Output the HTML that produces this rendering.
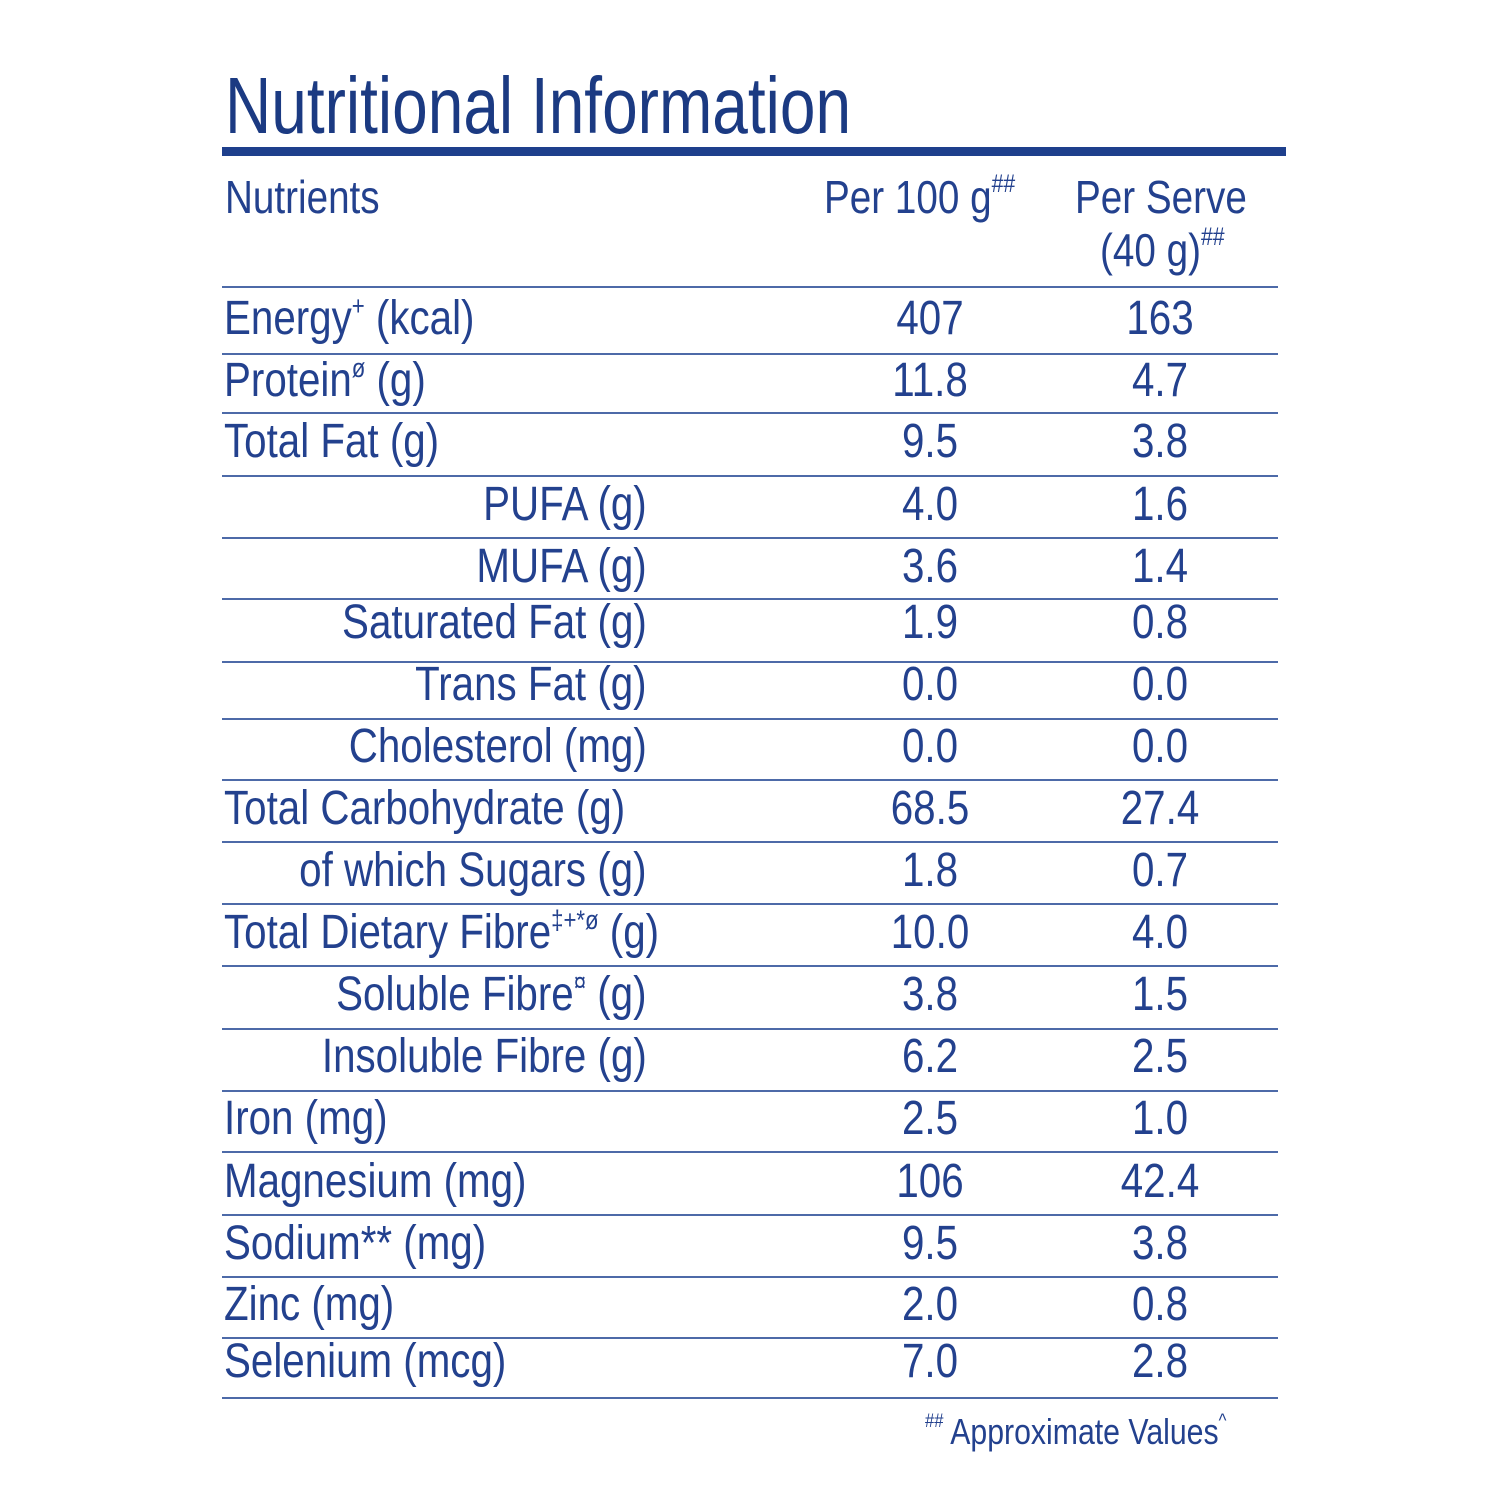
<!DOCTYPE html>
<html><head><meta charset="utf-8"><style>
body{margin:0;background:#fff;}
#wrap{position:relative;width:1500px;height:1500px;overflow:hidden;font-family:"Liberation Sans",sans-serif;color:#23418e;}
.t{position:absolute;white-space:nowrap;line-height:1;}
.l{transform:scaleX(0.84);transform-origin:left center;}
.r{transform:scaleX(0.84);transform-origin:right center;}
.c{transform:translateX(-50%) scaleX(0.84);transform-origin:center center;}
.ln{position:absolute;left:222px;width:1056px;height:2px;background:#4d6aa8;}
sup{font-size:55%;vertical-align:top;position:relative;top:-2px;}
</style></head><body>
<div id="wrap">
<div class="t l" style="left:225px;top:66px;font-size:80px;color:#1b3a82;transform:scaleX(0.8);">Nutritional Information</div>
<div style="position:absolute;left:222px;top:147px;width:1064px;height:9px;background:#1e3f8c;"></div>
<div class="t l" style="left:225px;top:174px;font-size:46px;">Nutrients</div>
<div class="t l" style="left:824px;top:174px;font-size:46px;">Per 100 g<sup>##</sup></div>
<div class="t l" style="left:1075px;top:174px;font-size:46px;">Per Serve</div>
<div class="t l" style="left:1100px;top:227px;font-size:46px;">(40 g)<sup>##</sup></div>
<div id="rows"></div>
<div class="t l" style="left:925px;top:1414px;font-size:36px;"><sup>##</sup> Approximate Values<sup>^</sup></div>
</div>
<script>
const labels=[["Energy<sup>+</sup> (kcal)","l"],["Protein<sup>ø</sup> (g)","l"],["Total Fat (g)","l"],["PUFA (g)","r"],["MUFA (g)","r"],["Saturated Fat (g)","r"],["Trans Fat (g)","r"],["Cholesterol (mg)","r"],["Total Carbohydrate (g)","l"],["of which Sugars (g)","r"],["Total Dietary Fibre<sup>‡+*ø</sup> (g)","l"],["Soluble Fibre<sup>¤</sup> (g)","r"],["Insoluble Fibre (g)","r"],["Iron (mg)","l"],["Magnesium (mg)","l"],["Sodium** (mg)","l"],["Zinc (mg)","l"],["Selenium (mcg)","l"]];
const per100=["407","11.8","9.5","4.0","3.6","1.9","0.0","0.0","68.5","1.8","10.0","3.8","6.2","2.5","106","9.5","2.0","7.0"];
const perServe=["163","4.7","3.8","1.6","1.4","0.8","0.0","0.0","27.4","0.7","4.0","1.5","2.5","1.0","42.4","3.8","0.8","2.8"];
const centers=[321,383,444,507,569,625,687,749,811,873,935,997,1059,1121,1184,1246,1307,1364];
const lines=[287,354,413,476,538,599,662,719,780,842,904,966,1029,1091,1152,1215,1277,1338,1398];
const host=document.getElementById('rows');
lines.forEach((y,i)=>{const d=document.createElement('div');d.className='ln';d.style.top=(y-1)+'px';


host.appendChild(d);});
labels.forEach((lab,i)=>{
const top=centers[i]-26;
const a=document.createElement('div');


a.innerHTML=lab[0];a.style.fontSize='48px';a.style.top=top+'px';
if(lab[1]=='l'){a.className='t l';a.style.left='224px';}else{a.className='t r';a.style.right=(1500-647)+'px';}
host.appendChild(a);
const b=document.createElement('div');b.className='t c';b.textContent=per100[i];b.style.left='930px';b.style.top=top+'px';b.style.fontSize='48px';


host.appendChild(b);
const c=document.createElement('div');c.className='t c';c.textContent=perServe[i];c.style.left='1160px';c.style.top=top+'px';c.style.fontSize='48px';


host.appendChild(c);
});
</script>
</body></html>
